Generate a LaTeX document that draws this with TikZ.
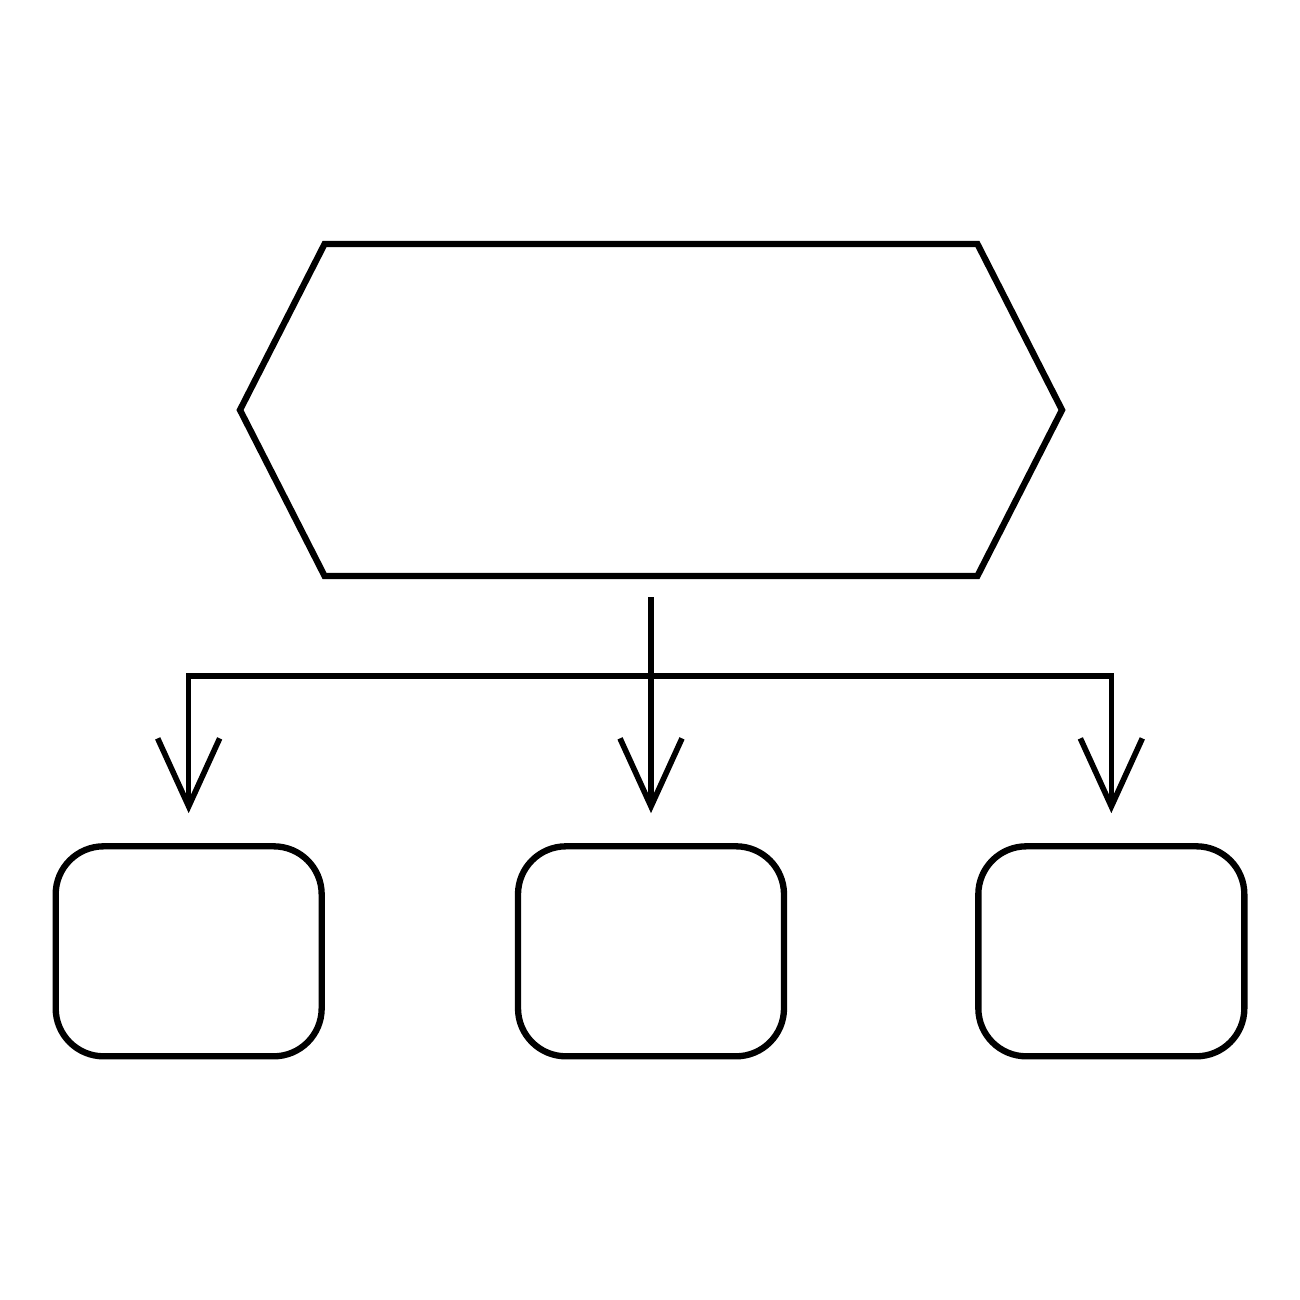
\documentclass[tikz,border=0pt]{standalone}
\usepackage{tikz}
\usetikzlibrary{shapes, positioning, arrows.meta, calc}
\tikzstyle{hexblock} = [signal, signal to=west and east, signal pointer angle=126, minimum width=8.22cm, minimum height=3.32cm, inner sep=0pt, draw=black, line width=1.8pt]
\tikzstyle{block} = [rectangle, rounded corners=0.48cm, minimum width=2.66cm, minimum height=2.1cm, draw=black, line width=1.8pt]
\tikzstyle{arrow} = [line width=1.6pt, -{Straight Barb[length=0.68cm, width=0.62cm]}]

\begin{document}
\begin{tikzpicture}
        \useasboundingbox (0,0) rectangle (13,13);
        \node (chief) [hexblock] at (6.51,8.90) {};
        \node (mid) [block, below=2.64cm of chief] {};
        \node (left) [block, left=1.9cm of mid] {};
        \node (right) [block, right=1.88cm of mid] {};
        \coordinate (bus) at ($(chief.south)+(0,-0.97)$);
        \draw [arrow, shorten <=0.18cm, shorten >=0.3cm] (chief.south) -- (mid.north);
        \draw [arrow, shorten >=0.3cm] (bus) -| (left.north);
        \draw [arrow, shorten >=0.3cm] (bus) -| (right.north);
    \end{tikzpicture}
\end{document}
